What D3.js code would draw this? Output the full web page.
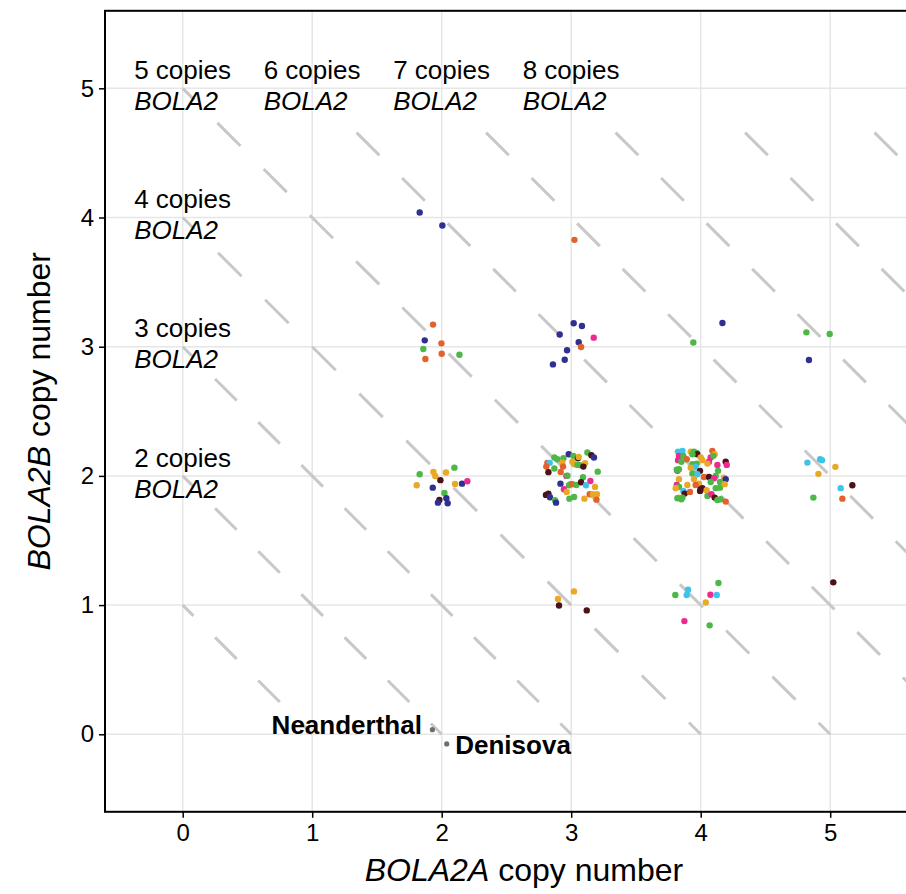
<!DOCTYPE html>
<html>
<head>
<meta charset="utf-8">
<script src="https://cdn.jsdelivr.net/npm/d3@7"></script>
<style>
  body { margin: 0; background: #fff; }
  svg { display: block; font-family: "Liberation Sans", Arial, sans-serif; }
</style>
</head>
<body>
<svg id="chart" width="906" height="894"></svg>
<script>
// super-population colour per group code
const groups = ["N", "O", "G", "Y", "P", "M", "C"];
const groupColors = ["#2e3192", "#e2622b", "#4db748", "#e9a825", "#ec2a8f", "#4b1319", "#3ec4ea"];

// copy number estimates per individual (jittered)
const bola2a = [
  1.830, 2.005, 3.025,
  1.933, 1.869, 1.998, 1.858, 2.000, 2.137, 1.874,
  3.019, 3.083, 2.911, 3.174, 3.058, 3.076, 2.968, 2.950, 2.859,
  3.943, 4.168, 4.816, 4.996, 4.836,
  2.898, 2.906, 3.021, 3.120,
  3.804, 3.902, 3.892, 4.075, 4.124, 4.137, 4.039, 3.874, 4.069,
  5.024,
  4.824, 4.922, 4.937, 5.040, 4.909, 5.081, 5.171, 4.870, 5.094,
  1.830, 1.936, 1.951, 2.033, 2.098, 1.807, 1.990, 1.931, 2.103, 2.157, 2.198, 2.021, 2.036, 1.982, 1.971, 2.046,
  2.870, 2.893, 2.940, 2.981, 3.017, 3.052, 3.058, 3.125, 3.156, 3.176,
  2.932, 2.816, 2.834, 2.808, 3.009, 3.022, 3.048, 3.073, 3.107, 3.094,
  2.937, 2.870, 2.824, 2.919, 2.963, 2.971, 3.205, 3.091, 2.917, 2.983,
  2.996, 3.009, 3.040, 3.076, 3.148, 3.114, 3.184, 2.944, 2.965, 2.805,
  2.824, 2.836, 3.022, 2.986, 3.102, 3.143, 3.168, 3.199, 3.195, 2.875, 2.883,
  3.825, 3.859, 3.923, 3.948, 3.969, 3.974, 4.090, 4.108, 3.832, 3.825,
  3.866, 3.892, 3.936, 4.000, 4.013, 4.077, 4.064, 4.098, 4.052, 4.129,
  4.193, 4.201, 3.851, 3.936, 3.969, 3.961, 3.923, 3.995, 3.936, 3.820,
  3.832, 3.815, 3.974, 3.832, 3.897, 3.948, 4.025, 4.064, 4.116, 4.134,
  4.103, 4.180, 4.193, 4.149, 4.077, 3.815, 3.832, 3.807, 3.866, 3.876,
  3.917, 3.987, 3.961, 4.000, 4.013, 3.995, 4.046, 4.116, 4.149, 4.185,
  4.052, 4.083, 4.108, 4.129, 4.154, 4.193, 3.832, 3.859, 3.851, 3.820
];
const bola2b = [
  4.039, 3.938, 3.827,
  3.171, 3.049, 3.026, 2.982, 2.946, 2.938, 2.905,
  3.181, 3.160, 3.095, 3.070, 3.034, 2.998, 2.972, 2.899, 2.863,
  3.033, 3.184, 3.111, 3.098, 2.897,
  1.047, 0.997, 1.106, 0.959,
  1.078, 1.119, 1.078, 1.080, 1.078, 1.171, 1.021, 0.876, 0.843,
  1.176,
  2.103, 2.129, 2.122, 2.070, 2.016, 1.905, 1.928, 1.832, 1.824,
  2.013, 2.031, 1.998, 2.026, 2.064, 1.928, 1.967, 1.909, 1.938, 1.940, 1.959, 1.868, 1.827, 1.814, 1.793, 1.788,
  2.142, 2.129, 2.137, 2.168, 2.155, 2.137, 2.147, 2.181, 2.160, 2.142,
  2.103, 2.101, 2.101, 2.072, 2.109, 2.091, 2.085, 2.083, 2.098, 2.072,
  2.072, 2.057, 2.029, 2.031, 2.000, 2.002, 2.033, 1.990, 1.940, 1.928,
  1.936, 1.936, 1.930, 1.951, 1.961, 1.928, 1.915, 1.897, 1.876, 1.853,
  1.863, 1.835, 1.837, 1.824, 1.824, 1.858, 1.858, 1.858, 1.816, 1.812, 1.793,
  2.188, 2.194, 2.188, 2.188, 2.178, 2.168, 2.194, 2.168, 2.155, 2.122,
  2.155, 2.129, 2.168, 2.142, 2.122, 2.142, 2.109, 2.155, 2.095, 2.085,
  2.109, 2.085, 2.109, 2.091, 2.095, 2.070, 2.064, 2.039, 2.018, 2.039,
  2.052, 2.047, 2.013, 1.974, 1.930, 1.974, 1.992, 1.992, 2.000, 2.039,
  1.982, 1.987, 1.974, 1.953, 1.953, 1.930, 1.915, 1.905, 1.884, 1.863,
  1.876, 1.940, 1.930, 1.897, 1.905, 1.884, 1.889, 1.905, 1.909, 1.936,
  1.845, 1.858, 1.832, 1.814, 1.819, 1.801, 1.832, 1.832, 1.819, 1.827
];
const superPop = (
  "NNO" + "ONOGOGO" + "NNNPNONNN" + "GNGGN" + "YMYM" + "GCCPCGYPG" + "M" +
  "CCCYYCMGO" + "GYYYGYMNYNPGNMNN" +
  "GGGNGMYGMN" + "YOCOYYGGYM" + "OGMOPGGGNG" + "GOGMPCYPYM" + "MNGGYOYYOGN" +
  "CCYGGMOYPP" + "GOGYYPPGYP" + "MPGGGCYMGP" + "GGCYYYOMGG" + "PYNGGPGYCM" +
  "OYOMMMYGGY" + "GPMGGOYGGG"
).split("");

// archaic hominins
const archaicNames = ["Neanderthal", "Denisova"];
const archaicA = [1.928, 2.039];
const archaicB = [0.036, -0.075];

// total BOLA2 copies shown as diagonals x + y = k
const totals = [1, 2, 3, 4, 5, 6, 7, 8, 9, 10];
const labelTotals = [2, 3, 4, 5, 6, 7, 8];

const xTicks = [0, 1, 2, 3, 4, 5];
const yTicks = [0, 1, 2, 3, 4, 5];

const svg = d3.select("#chart");
const padL = 105, padT = 10.8, padB = 811.8;

const x = d3.scaleLinear().domain([-0.6, 5.87]).range([padL, padL + 6.47 * 129.5]);
const y = d3.scaleLinear().domain([-0.6, 5.6]).range([padB, padT]);
const padR = x(5.87);
const color = d3.scaleOrdinal(groups, groupColors);

svg.append("defs").append("clipPath").attr("id", "panel")
  .append("rect").attr("x", padL).attr("y", padT)
  .attr("width", padR - padL).attr("height", padB - padT);

const panel = svg.append("g").attr("clip-path", "url(#panel)");

// grid
panel.append("g").selectAll("line").data(xTicks).join("line")
  .attr("x1", d => x(d)).attr("x2", d => x(d))
  .attr("y1", padT).attr("y2", padB)
  .attr("stroke", "#e6e6e6").attr("stroke-width", 1.5);
panel.append("g").selectAll("line").data(yTicks).join("line")
  .attr("y1", d => y(d)).attr("y2", d => y(d))
  .attr("x1", padL).attr("x2", padR)
  .attr("stroke", "#e6e6e6").attr("stroke-width", 1.5);

// diagonals: from (k,0) up to (0,k), or stopping under the labels for k > 5;
// dashes fitted so each end gets half a dash
const diagTop = 4.7;
function diag(k) {
  const x1 = x(k), y1 = y(0);
  const x2 = k <= 5 ? x(0) : x(k - diagTop);
  const y2 = k <= 5 ? y(k) : y(diagTop);
  const len = Math.hypot(x2 - x1, y2 - y1);
  let p;
  if (k <= 5) {
    p = len / Math.round(Math.abs(x1 - x2) / 45.5);
  } else {
    p = (y(0) - y(0.3515)) * len / Math.abs(y1 - y2);
  }
  return { x1, y1, x2, y2, p };
}
panel.append("g").selectAll("line").data(totals.map(diag)).join("line")
  .attr("x1", d => d.x1).attr("y1", d => d.y1)
  .attr("x2", d => d.x2).attr("y2", d => d.y2)
  .attr("stroke", "#c8c8c8").attr("stroke-width", 3)
  .attr("stroke-dasharray", d => `${d.p / 2} ${d.p / 2}`)
  .attr("stroke-dashoffset", d => d.p / 4);

// individuals
panel.append("g").selectAll("circle").data(bola2a).join("circle")
  .attr("cx", d => x(d))
  .attr("cy", (d, i) => y(bola2b[i]))
  .attr("r", 3.2)
  .attr("fill", (d, i) => color(superPop[i]));

panel.append("g").selectAll("circle").data(archaicA).join("circle")
  .attr("cx", d => x(d))
  .attr("cy", (d, i) => y(archaicB[i]))
  .attr("r", 2.6)
  .attr("fill", "#6d6e71");

// archaic labels
const arch = svg.append("g").attr("font-size", 26).attr("font-weight", "bold");
arch.append("text")
  .attr("x", x(archaicA[0]) - 10.5).attr("y", y(archaicB[0]) + 4.7)
  .attr("text-anchor", "end").text(archaicNames[0]);
arch.append("text")
  .attr("x", x(archaicA[1]) + 8.5).attr("y", y(archaicB[1]) + 10.5)
  .text(archaicNames[1]);

// copy-number labels
const lab = svg.append("g").attr("font-size", 26).selectAll("text")
  .data(labelTotals).join("text")
  .attr("x", d => x(Math.max(0, d - 5) - 0.375))
  .attr("y", d => y(Math.min(d, 5)) - 9.3);
lab.append("tspan").text(d => d + " copies");
lab.append("tspan").attr("x", d => x(Math.max(0, d - 5) - 0.375)).attr("dy", 31)
  .attr("font-style", "italic").text("BOLA2");

// panel border
svg.append("rect").attr("x", padL).attr("y", padT)
  .attr("width", padR - padL + 10).attr("height", padB - padT)
  .attr("fill", "none").attr("stroke", "#000").attr("stroke-width", 2);

// axes
const xAxis = svg.append("g").attr("transform", `translate(0,${padB})`)
  .call(d3.axisBottom(x).tickValues(xTicks).tickSize(6).tickPadding(6).tickFormat(d3.format("d")));
const yAxis = svg.append("g").attr("transform", `translate(${padL},0)`)
  .call(d3.axisLeft(y).tickValues(yTicks).tickSize(6).tickPadding(5).tickFormat(d3.format("d")));
[xAxis, yAxis].forEach(a => {
  a.select(".domain").remove();
  a.selectAll(".tick line").attr("stroke", "#000").attr("stroke-width", 1.5);
  a.selectAll(".tick text").attr("font-size", 24).attr("fill", "#000")
    .attr("font-family", "Liberation Sans, Arial, sans-serif");
});

// axis titles
const xt = svg.append("text").attr("x", (padL + padR) / 2).attr("y", 881)
  .attr("text-anchor", "middle").attr("font-size", 32);
xt.append("tspan").attr("font-style", "italic").text("BOLA2A");
xt.append("tspan").text(" copy number");

const yt = svg.append("text")
  .attr("transform", `translate(50,${(padT + padB) / 2}) rotate(-90)`)
  .attr("text-anchor", "middle").attr("font-size", 32);
yt.append("tspan").attr("font-style", "italic").text("BOLA2B");
yt.append("tspan").text(" copy number");
</script>
</body>
</html>
